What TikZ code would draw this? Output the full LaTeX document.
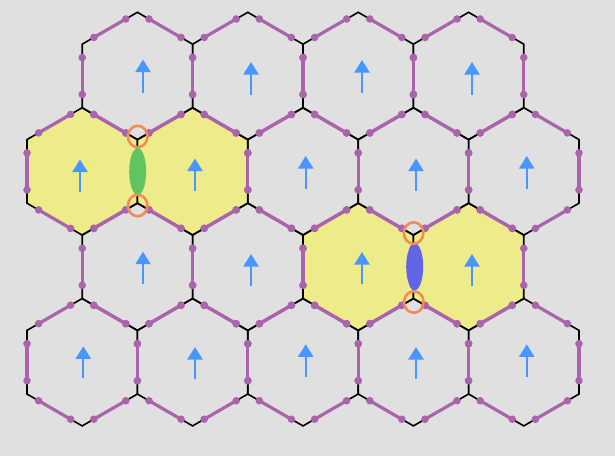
\documentclass[tikz,border=0pt]{standalone}
\usetikzlibrary{arrows.meta,calc,shapes.geometric}
\definecolor{bggray}{RGB}{224,224,224}
\definecolor{hexyellow}{RGB}{238,235,138}
\definecolor{edgepurple}{RGB}{170,100,172}
\definecolor{arrowblue}{RGB}{72,150,255}
\definecolor{dimergreen}{RGB}{96,196,96}
\definecolor{dimerblue}{RGB}{100,100,230}
\definecolor{ringorange}{RGB}{240,140,90}
\tikzset{
  gridline/.style={black,line width=1.6pt,line join=miter},
  purpleseg/.style={edgepurple,line width=3.2pt},
  spinarrow/.style={arrowblue,line width=2pt,-{Triangle[width=15pt,length=12.5pt]}},
  ringnode/.style={ellipse,draw=ringorange,line width=2.6pt,minimum width=19.5pt,minimum height=21.5pt,inner sep=0pt},
  dimernode/.style={ellipse,minimum width=17pt,minimum height=47pt,inner sep=0pt},
}
\newcommand\hexR{63.7}
\begin{document}
\begin{tikzpicture}[x=1pt,y=-1pt]
\fill[bggray] (0,0) rectangle (615,456);
\useasboundingbox (0,0) rectangle (615,464);
% yellow cells
\foreach \cx/\cy in {82.2/171.4, 192.6/171.4, 358.2/266.8, 468.6/266.8}{
  \fill[hexyellow] (\cx,\cy) +(30:\hexR) -- +(90:\hexR) -- +(150:\hexR) -- +(210:\hexR) -- +(270:\hexR) -- +(330:\hexR) -- cycle;
}
% black grid
\foreach \cy/\xs/\n in {76/137.4/3, 171.4/82.2/4, 266.8/137.4/3, 362.2/82.2/4}{
  \foreach \i in {0,...,\n}{
    \pgfmathsetmacro\cx{\xs+\i*110.4}
    \draw[gridline] (\cx,\cy) +(30:\hexR) -- +(90:\hexR) -- +(150:\hexR) -- +(210:\hexR) -- +(270:\hexR) -- +(330:\hexR) -- cycle;
  }
}
% purple segments
\foreach \cy/\xs/\n in {76/137.4/3, 171.4/82.2/4, 266.8/137.4/3, 362.2/82.2/4}{
  \foreach \i in {0,...,\n}{
    \pgfmathsetmacro\cx{\xs+\i*110.4}
    \foreach \a in {30,90,...,330}{
      \pgfmathsetmacro\b{\a+60}
      \coordinate (A) at ($(\cx,\cy)+(\a:\hexR)$);
      \coordinate (B) at ($(\cx,\cy)+(\b:\hexR)$);
      \coordinate (P) at ($(A)!0.21!(B)$);
      \coordinate (Q) at ($(A)!0.79!(B)$);
      \draw[purpleseg] (P) -- (Q);
      \fill[edgepurple] (P) circle (3.8) (Q) circle (3.8);
    }
  }
}
% arrows
\foreach \x/\t/\bt in {143/59.5/92.5, 251/62/94.5, 362/60/93, 472/62/94.5,
  80/159.5/191.5, 195/158.5/190.5, 305.7/156/189, 416/158.5/190.5, 526.7/156/189,
  143/251.7/284, 251/254/286, 362/252/284.3, 472/254/286,
  83.3/346.3/378.3, 195/347/379, 305.7/344.3/377, 416/347/379, 526.7/344.3/377}{
  \draw[spinarrow] (\x,\bt) -- (\x,\t);
}
% dimers
\node[dimernode,fill=dimergreen] (dimerA) at (137.7,171.5) {};
\node[dimernode,fill=dimerblue] (dimerB) at (414.7,266.7) {};
% rings
\node[ringnode] (ringA1) at (137.7,136.5) {};
\node[ringnode] (ringA2) at (137.7,205.5) {};
\node[ringnode] (ringB1) at (413.6,233) {};
\node[ringnode] (ringB2) at (413.8,302) {};
\end{tikzpicture}
\end{document}
